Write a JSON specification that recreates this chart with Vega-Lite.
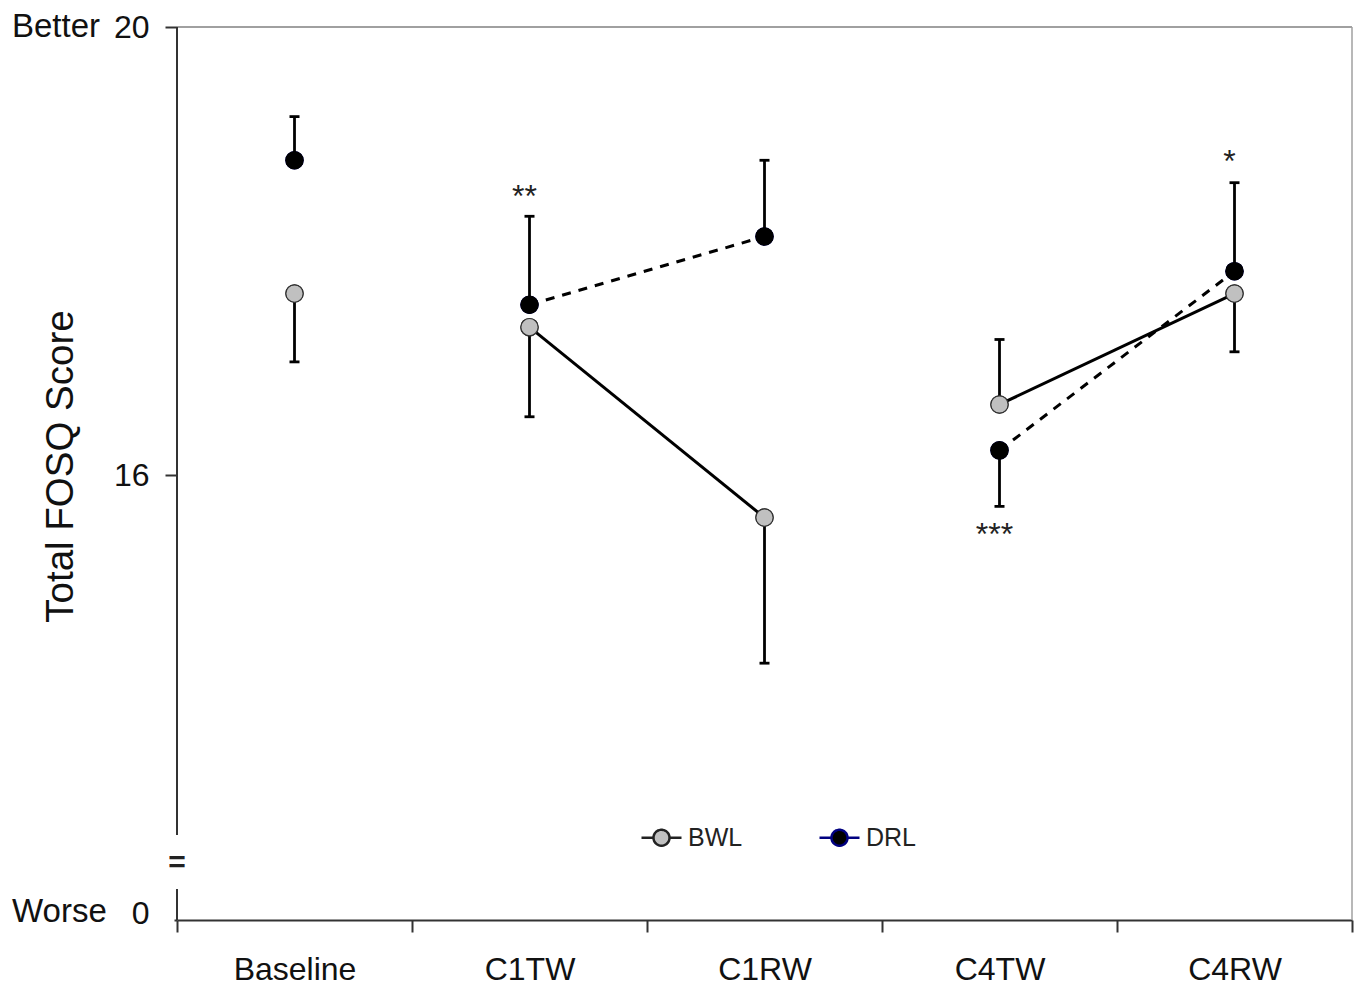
{
  "$schema": "https://vega.github.io/schema/vega-lite/v6.json",
  "width": 1175,
  "height": 893,
  "autosize": "none",
  "padding": {"left": 177, "top": 27, "right": 8, "bottom": 67},
  "background": "white",
  "config": {
    "view": {"stroke": null},
    "font": "Liberation Sans",
    "text": {"font": "Liberation Sans"}
  },
  "datasets": {
    "fosq": [
      {"time": "Baseline", "group": "BWL", "mean": 17.62, "err": 17.01, "seg": null},
      {"time": "Baseline", "group": "DRL", "mean": 18.81, "err": 19.20, "seg": null},
      {"time": "C1TW", "group": "BWL", "mean": 17.32, "err": 16.52, "seg": "C1"},
      {"time": "C1TW", "group": "DRL", "mean": 17.52, "err": 18.31, "seg": "C1"},
      {"time": "C1RW", "group": "BWL", "mean": 15.62, "err": 14.32, "seg": "C1"},
      {"time": "C1RW", "group": "DRL", "mean": 18.13, "err": 18.81, "seg": "C1"},
      {"time": "C4TW", "group": "BWL", "mean": 16.63, "err": 17.21, "seg": "C4"},
      {"time": "C4TW", "group": "DRL", "mean": 16.22, "err": 15.72, "seg": "C4"},
      {"time": "C4RW", "group": "BWL", "mean": 17.62, "err": 17.10, "seg": "C4"},
      {"time": "C4RW", "group": "DRL", "mean": 17.82, "err": 18.61, "seg": "C4"}
    ],
    "notes": [
      {"time": "C1TW", "label": "**", "pos": 18.53},
      {"time": "C4TW", "label": "***", "pos": 15.51},
      {"time": "C4RW", "label": "*", "pos": 18.84}
    ],
    "ends": [
      {"label": "Better", "pos": 20},
      {"label": "Worse", "pos": 12.1}
    ],
    "one": [{}]
  },
  "layer": [
    {
      "data": {"name": "fosq"},
      "mark": {"type": "point", "filled": true, "size": 300, "strokeWidth": 1.2, "opacity": 1, "shape": "circle"},
      "encoding": {
        "x": {
          "field": "time",
          "type": "nominal",
          "sort": ["Baseline", "C1TW", "C1RW", "C4TW", "C4RW"],
          "scale": {"domain": ["Baseline", "C1TW", "C1RW", "C4TW", "C4RW"], "paddingInner": 0, "paddingOuter": 0},
          "axis": {
            "title": null,
            "labelAngle": 0,
            "labelFontSize": 32,
            "labelColor": "#111111",
            "labelPadding": 22,
            "tickBand": "extent",
            "tickSize": 12,
            "tickWidth": 2,
            "tickColor": "#333333",
            "domainColor": "#333333",
            "domainWidth": 2,
            "grid": false
          }
        },
        "y": {
          "field": "mean",
          "type": "quantitative",
          "scale": {"domain": [12.027, 20], "zero": false, "nice": false},
          "axis": {
            "title": "Total FOSQ Score",
            "titleFontSize": 38.5,
            "titleFontWeight": "normal",
            "titleColor": "#111111",
            "titlePadding": 33,
            "titleY": 439,
            "values": [12.027, 16, 20],
            "labelExpr": "datum.value < 13 ? '0' : format(datum.value, 'd')",
            "labelFontSize": 32,
            "labelColor": "#111111",
            "labelPadding": {"condition": {"test": "datum.value < 13", "value": 25}, "value": 16},
            "labelOffset": {"condition": {"test": "datum.value < 13", "value": -7}, "value": 0},
            "tickSize": {"condition": {"test": "datum.value < 13", "value": 3}, "value": 12},
            "tickWidth": 2,
            "tickColor": "#333333",
            "domain": false,
            "grid": false
          }
        },
        "fill": {
          "field": "group",
          "type": "nominal",
          "scale": {"domain": ["BWL", "DRL"], "range": ["#c0c0c0", "#000000"]},
          "legend": {
            "title": null,
            "orient": "none",
            "direction": "horizontal",
            "legendX": 463,
            "legendY": 789,
            "padding": 0,
            "offset": 0,
            "symbolType": "M-1,0L-0.4,0M0.4,0L1,0M0.4,0A0.4,0.4,0,1,1,-0.4,0A0.4,0.4,0,1,1,0.4,0",
            "symbolSize": 1600,
            "symbolStrokeWidth": 2.5,
            "symbolOpacity": 1,
            "symbolDash": [1, 0],
            "labelFontSize": 25,
            "labelColor": "#222222",
            "labelOffset": 5,
            "columnPadding": 71
          }
        },
        "stroke": {
          "field": "group",
          "type": "nominal",
          "scale": {"domain": ["BWL", "DRL"], "range": ["#222222", "#000080"]}
        }
      }
    },
    {
      "data": {"name": "one"},
      "mark": {"type": "rule", "color": "#a0a0a0", "strokeWidth": 2},
      "encoding": {
        "y": {"datum": 20, "type": "quantitative"}
      }
    },
    {
      "data": {"name": "one"},
      "mark": {"type": "rule", "color": "#a0a0a0", "strokeWidth": 1.5},
      "encoding": {
        "x": {"datum": "C4RW", "type": "nominal", "bandPosition": 1},
        "y": {"datum": 20, "type": "quantitative"},
        "y2": {"datum": 12.027}
      }
    },
    {
      "data": {"name": "one"},
      "mark": {"type": "rule", "color": "#333333", "strokeWidth": 2},
      "encoding": {
        "x": {"datum": "Baseline", "type": "nominal", "bandPosition": 0},
        "y": {"datum": 20, "type": "quantitative"},
        "y2": {"datum": 12.786}
      }
    },
    {
      "data": {"name": "one"},
      "mark": {"type": "rule", "color": "#333333", "strokeWidth": 2},
      "encoding": {
        "x": {"datum": "Baseline", "type": "nominal", "bandPosition": 0},
        "y": {"datum": 12.304, "type": "quantitative"},
        "y2": {"datum": 12.027}
      }
    },
    {
      "data": {"name": "one"},
      "mark": {"type": "text", "text": "=", "fontSize": 30, "fontWeight": "bold", "color": "#222222", "align": "center", "baseline": "alphabetic", "dy": 11},
      "encoding": {
        "x": {"datum": "Baseline", "type": "nominal", "bandPosition": 0},
        "y": {"datum": 12.554, "type": "quantitative"}
      }
    },
    {
      "data": {"name": "ends"},
      "mark": {"type": "text", "fontSize": 33, "color": "#111111", "align": "left", "baseline": "middle", "dx": -165},
      "encoding": {
        "x": {"datum": "Baseline", "type": "nominal", "bandPosition": 0},
        "y": {"field": "pos", "type": "quantitative"},
        "text": {"field": "label"}
      }
    },
    {
      "data": {"name": "fosq"},
      "transform": [{"filter": "datum.seg != null && datum.group == 'BWL'"}],
      "mark": {"type": "line", "color": "black", "strokeWidth": 3},
      "encoding": {
        "x": {"field": "time", "type": "nominal"},
        "y": {"field": "mean", "type": "quantitative"},
        "detail": {"field": "seg"}
      }
    },
    {
      "data": {"name": "fosq"},
      "transform": [{"filter": "datum.seg != null && datum.group == 'DRL'"}],
      "mark": {"type": "line", "color": "black", "strokeWidth": 3, "strokeDash": [9, 8]},
      "encoding": {
        "x": {"field": "time", "type": "nominal"},
        "y": {"field": "mean", "type": "quantitative"},
        "detail": {"field": "seg"}
      }
    },
    {
      "data": {"name": "fosq"},
      "mark": {"type": "rule", "color": "black", "strokeWidth": 2.8},
      "encoding": {
        "x": {"field": "time", "type": "nominal"},
        "y": {"field": "mean", "type": "quantitative"},
        "y2": {"field": "err"}
      }
    },
    {
      "data": {"name": "fosq"},
      "mark": {"type": "tick", "color": "black", "thickness": 2.8, "size": 10, "opacity": 1},
      "encoding": {
        "x": {"field": "time", "type": "nominal"},
        "y": {"field": "err", "type": "quantitative"}
      }
    },
    {
      "data": {"name": "fosq"},
      "transform": [{"filter": "datum.group == 'BWL'"}],
      "mark": {"type": "point", "filled": true, "size": 300, "strokeWidth": 1.2, "opacity": 1, "shape": "circle", "fill": "#c0c0c0", "stroke": "#333333"},
      "encoding": {
        "x": {"field": "time", "type": "nominal"},
        "y": {"field": "mean", "type": "quantitative"}
      }
    },
    {
      "data": {"name": "fosq"},
      "transform": [{"filter": "datum.group == 'DRL'"}],
      "mark": {"type": "point", "filled": true, "size": 300, "strokeWidth": 1.2, "opacity": 1, "shape": "circle", "fill": "#000000", "stroke": "#000000"},
      "encoding": {
        "x": {"field": "time", "type": "nominal"},
        "y": {"field": "mean", "type": "quantitative"}
      }
    },
    {
      "data": {"name": "notes"},
      "mark": {"type": "text", "fontSize": 32, "color": "#222222", "align": "center", "baseline": "alphabetic", "dy": 15, "dx": -5},
      "encoding": {
        "x": {"field": "time", "type": "nominal"},
        "y": {"field": "pos", "type": "quantitative"},
        "text": {"field": "label"}
      }
    }
  ]
}
